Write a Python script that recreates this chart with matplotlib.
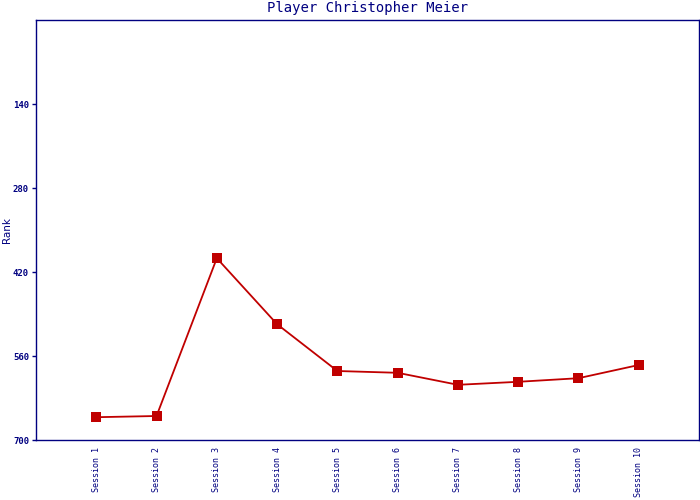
import matplotlib

matplotlib.use("Agg")
import matplotlib.pyplot as plt

sessions = [f"Session {i}" for i in range(1, 11)]
ranks = [662, 660, 397, 507, 585, 588, 608, 603, 597, 575]
y_ticks = [140, 280, 420, 560, 700]

navy = "#000080"
red = "#c00000"

fig = plt.figure(figsize=(7, 5), dpi=100)
ax = fig.add_axes([36 / 700, 60 / 500, 663 / 700, 420 / 500])

x = list(range(1, len(sessions) + 1))
ax.plot(x, ranks, color=red, linewidth=1.3, marker="s", markersize=7,
        markeredgewidth=0, markerfacecolor=red)

ax.set_xlim(0, 11)
ax.set_ylim(700, 0)
ax.set_yticks(y_ticks)
ax.set_yticklabels([str(t) for t in y_ticks], fontsize=6.5,
                   family="DejaVu Sans Mono", color=navy, fontweight="bold")
ax.set_xticks(x)
ax.set_xticklabels(sessions, rotation=90, fontsize=6,
                   family="DejaVu Sans Mono", color=navy, va="top")
ax.tick_params(axis="x", length=0, pad=5)
ax.tick_params(axis="y", length=3, color=navy, width=1, pad=2)

for s in ax.spines.values():
    s.set_color(navy)
    s.set_linewidth(1)

ax.set_ylabel("Rank", fontsize=7.5, color=navy)
ax.yaxis.set_label_coords(-24 / 663, 0.5)
ax.set_title("Player Christopher Meier", fontsize=10, color=navy,
             family="DejaVu Sans Mono", pad=6)

fig.savefig("out.png", dpi=100)
plt.close(fig)
